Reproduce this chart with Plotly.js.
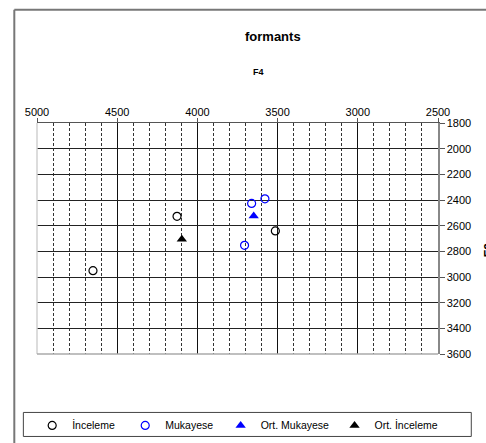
<!DOCTYPE html>
<html>
<head>
<meta charset="utf-8">
<script src="https://cdn.plot.ly/plotly-3.0.1.min.js"></script>
<style>
html,body{margin:0;padding:0;background:#fff;}
#chart{width:486px;height:443px;}
</style>
</head>
<body>
<div id="chart"></div>
<script>
// Data
const seriesNames = ["İnceleme", "Mukayese", "Ort. Mukayese", "Ort. İnceleme"];
const incelemeX = [4651, 4127, 3514];
const incelemeY = [2951, 2527, 2641];
const mukayeseX = [3662, 3579, 3706];
const mukayeseY = [2427, 2391, 2753];
const ortMukayeseX = [3649];
const ortMukayeseY = [2524];
const ortIncelemeX = [4097];
const ortIncelemeY = [2706];
const titleText = "formants";
const subtitleText = "F4";
const yTitleText = "F3";

const font = "Liberation Sans, Arial, sans-serif";

const traces = [
  {x: incelemeX, y: incelemeY, name: seriesNames[0], type: "scatter", mode: "markers", legend: "legend",
   marker: {symbol: "circle-open", size: 8, color: "#000000", line: {width: 1.2, color: "#000000"}}},
  {x: mukayeseX, y: mukayeseY, name: seriesNames[1], type: "scatter", mode: "markers", legend: "legend2",
   marker: {symbol: "circle-open", size: 8, color: "#0000ff", line: {width: 1.2, color: "#0000ff"}}},
  {x: ortMukayeseX, y: ortMukayeseY, name: seriesNames[2], type: "scatter", mode: "markers", legend: "legend3",
   marker: {symbol: "triangle-up", size: 9, color: "#0000ff"}},
  {x: ortIncelemeX, y: ortIncelemeY, name: seriesNames[3], type: "scatter", mode: "markers", legend: "legend4",
   marker: {symbol: "triangle-up", size: 9, color: "#000000"}}
];

function leg(xp) {
  return {orientation: "h", x: xp, xanchor: "left", y: -0.309, yanchor: "middle",
          font: {family: font, size: 10.5, color: "#000"}, bgcolor: "rgba(0,0,0,0)",
          borderwidth: 0, itemwidth: 30};
}

const layout = {
  width: 486, height: 443,
  margin: {l: 37, r: 48, t: 123, b: 89, autoexpand: false},
  paper_bgcolor: "#ffffff", plot_bgcolor: "#ffffff",
  font: {family: font, size: 11, color: "#000"},
  showlegend: true,
  legend: leg(-0.012),
  legend2: leg(0.22),
  legend3: leg(0.458),
  legend4: leg(0.742),
  xaxis: {range: [5000, 2500], side: "top", tick0: 2500, dtick: 500, showgrid: true,
          gridcolor: "#111", gridwidth: 1, zeroline: false,
          showline: true, linecolor: "#555", linewidth: 1.5,
          ticks: "outside", ticklen: 4, tickcolor: "#555", ticklabelstandoff: -3,
          tickfont: {family: font, size: 11},
          minor: {dtick: 100, tick0: 2500, showgrid: true, gridcolor: "#333", griddash: "3px,2px", gridwidth: 1, ticks: ""}},
  yaxis: {range: [3600, 1800], side: "right", tick0: 1800, dtick: 200, showgrid: true,
          gridcolor: "#222", gridwidth: 1, zeroline: false,
          showline: true, linecolor: "#888", linewidth: 1.5,
          ticks: "outside", ticklen: 5, tickcolor: "#555", tickfont: {family: font, size: 11}},
  annotations: [
    {text: "<b>" + titleText + "</b>", xref: "paper", yref: "paper", x: 0.589, y: 1.373,
     xanchor: "center", yanchor: "middle", showarrow: false, font: {family: font, size: 13}},
    {text: "<b>" + subtitleText + "</b>", xref: "paper", yref: "paper", x: 0.552, y: 1.221,
     xanchor: "center", yanchor: "middle", showarrow: false, font: {family: font, size: 9}},
    {text: "<b>" + yTitleText + "</b>", xref: "paper", yref: "paper", x: 1.105, y: 0.45,
     xanchor: "left", yanchor: "middle", textangle: -90, showarrow: false, font: {family: font, size: 12}}
  ],
  shapes: [
    // outer chart frame (left and top edges)
    {type: "line", xref: "paper", yref: "paper", x0: -0.0566, x1: -0.0566, y0: 1.49, y1: -0.5,
     line: {color: "#777", width: 2}},
    {type: "line", xref: "paper", yref: "paper", x0: -0.0566, x1: 1.3, y0: 1.49, y1: 1.49,
     line: {color: "#777", width: 2}},
    // plot area left & bottom borders
    {type: "line", xref: "paper", yref: "paper", x0: 0, x1: 0, y0: 0, y1: 1, line: {color: "#d0d0d0", width: 1.5}},
    {type: "line", xref: "paper", yref: "paper", x0: 0, x1: 1, y0: 0, y1: 0, line: {color: "#aaaaaa", width: 1.5}},
    // legend box
    {type: "rect", xref: "paper", yref: "paper", x0: -0.034, x1: 1.083, y0: -0.357, y1: -0.253,
     line: {color: "#444", width: 1}, fillcolor: "rgba(0,0,0,0)"}
  ]
};

Plotly.newPlot("chart", traces, layout, {displayModeBar: false, staticPlot: true});
</script>
</body>
</html>
